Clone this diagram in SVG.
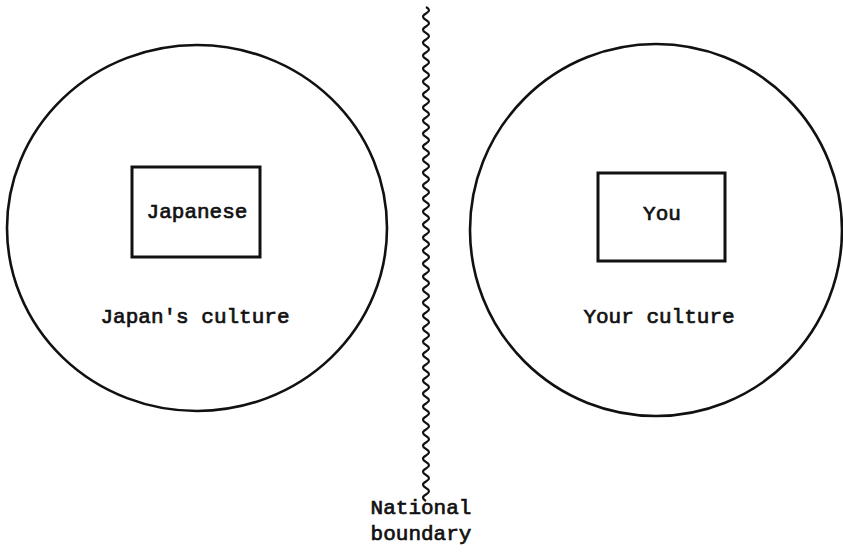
<svg xmlns="http://www.w3.org/2000/svg" width="843" height="555" viewBox="0 0 843 555">
<style>
.circ{fill:none;stroke:#111;stroke-width:2.6}
.box{fill:none;stroke:#111;stroke-width:3}
.t{font-family:"Liberation Mono","Courier New",monospace;font-size:21px;fill:#111;text-anchor:middle;stroke:#111;stroke-width:0.7}
.wave{fill:none;stroke:#111;stroke-width:2.2}
</style>
<rect width="843" height="555" fill="#fff"/>
<g id="japan-culture">
<ellipse class="circ" cx="197" cy="228" rx="190" ry="183"/>
<text class="t" x="195" y="323">Japan's culture</text>
</g>
<g id="japanese">
<rect class="box" x="132" y="167" width="128" height="90"/>
<text class="t" x="197" y="218">Japanese</text>
</g>
<g id="your-culture">
<ellipse class="circ" cx="656" cy="230" rx="186" ry="186"/>
<text class="t" x="659" y="323">Your culture</text>
</g>
<g id="you">
<rect class="box" x="598" y="173" width="127" height="88"/>
<text class="t" x="662" y="220">You</text>
</g>
<g id="boundary">
<path class="wave" d="M426,7 q6,3.25 0,6.5 t0,6.5 t0,6.5 t0,6.5 t0,6.5 t0,6.5 t0,6.5 t0,6.5 t0,6.5 t0,6.5 t0,6.5 t0,6.5 t0,6.5 t0,6.5 t0,6.5 t0,6.5 t0,6.5 t0,6.5 t0,6.5 t0,6.5 t0,6.5 t0,6.5 t0,6.5 t0,6.5 t0,6.5 t0,6.5 t0,6.5 t0,6.5 t0,6.5 t0,6.5 t0,6.5 t0,6.5 t0,6.5 t0,6.5 t0,6.5 t0,6.5 t0,6.5 t0,6.5 t0,6.5 t0,6.5 t0,6.5 t0,6.5 t0,6.5 t0,6.5 t0,6.5 t0,6.5 t0,6.5 t0,6.5 t0,6.5 t0,6.5 t0,6.5 t0,6.5 t0,6.5 t0,6.5 t0,6.5 t0,6.5 t0,6.5 t0,6.5 t0,6.5 t0,6.5 t0,6.5 t0,6.5 t0,6.5 t0,6.5 t0,6.5 t0,6.5 t0,6.5 t0,6.5 t0,6.5 t0,6.5 t0,6.5 t0,6.5 t0,6.5 t0,6.5 t0,6.5 t0,6.5"/>
<text class="t" x="421" y="514">National</text>
<text class="t" x="421" y="540">boundary</text>
</g>
<g id="connectors"></g>
</svg>
